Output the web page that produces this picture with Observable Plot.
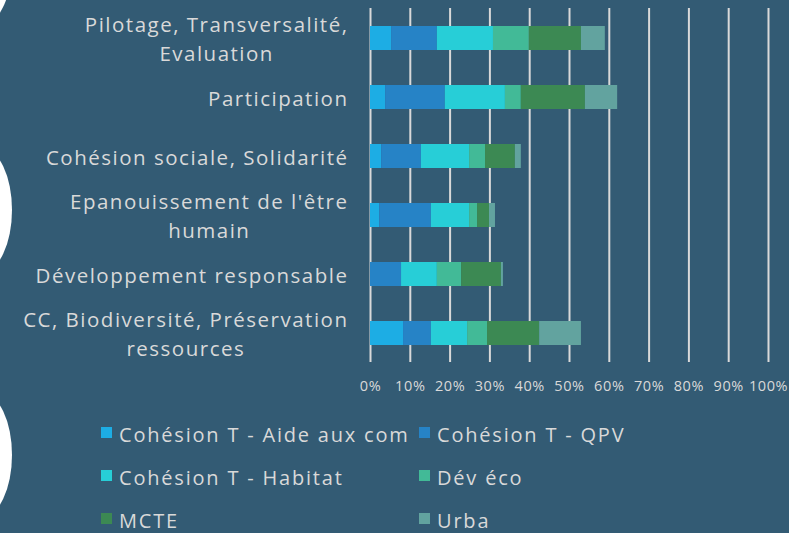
<!DOCTYPE html>
<html>
<head>
<meta charset="utf-8">
<script src="https://cdn.jsdelivr.net/npm/d3@7"></script>
<script src="https://cdn.jsdelivr.net/npm/@observablehq/plot@0.6"></script>
<style>
  html, body { margin: 0; padding: 0; }
  body { width: 789px; height: 533px; background: #335B74; position: relative; overflow: hidden; font-family: "Open Sans", sans-serif; }
  .deco { position: absolute; background: #ffffff; border-radius: 50%; width: 60px; height: 124px; left: -48px; }
  #chart { position: absolute; left: 0; top: 0; }
  #chart svg g[aria-label="y-axis tick label"] text { letter-spacing: 1.5px; }
  #chart svg g[aria-label="x-axis tick label"] text { letter-spacing: 0.6px; }
  #legend { position: absolute; left: 101px; top: 413px; display: grid; grid-template-columns: 318px 300px; grid-auto-rows: 43px; color: #d9d9d9; font-size: 20px; letter-spacing: 1.8px; }
  .item { display: flex; align-items: center; height: 43px; white-space: nowrap; }
  .sw { width: 11px; height: 11px; margin-right: 7px; margin-top: -4px; flex: none; }
</style>
</head>
<body>
<div class="deco" style="top:-99px"></div>
<div class="deco" style="top:148px"></div>
<div class="deco" style="top:393px"></div>
<div id="chart"></div>
<div id="legend"></div>
<script>
const categories = [
  "Pilotage, Transversalité,\nEvaluation",
  "Participation",
  "Cohésion sociale, Solidarité",
  "Epanouissement de l'être\nhumain",
  "Développement responsable",
  "CC, Biodiversité, Préservation\nressources"
];
const series = ["Cohésion T - Aide aux com", "Cohésion T - QPV", "Cohésion T - Habitat", "Dév éco", "MCTE", "Urba"];
const colors = ["#1DADE4", "#2683C6", "#27CED7", "#42BA97", "#3C8953", "#62A39F"];

const aideAuxCom = [0.053, 0.038, 0.028, 0.023, 0.000, 0.083];
const qpv        = [0.115, 0.150, 0.100, 0.130, 0.078, 0.070];
const habitat    = [0.141, 0.151, 0.121, 0.096, 0.090, 0.091];
const devEco     = [0.090, 0.040, 0.040, 0.020, 0.061, 0.050];
const mcte       = [0.131, 0.161, 0.075, 0.030, 0.100, 0.131];
const urba       = [0.060, 0.081, 0.015, 0.015, 0.005, 0.105];

const xTicks = [0, 0.1, 0.2, 0.3, 0.4, 0.5, 0.6, 0.7, 0.8, 0.9, 1.0];

const seriesValues = [aideAuxCom, qpv, habitat, devEco, mcte, urba];
const data = [];
series.forEach((s, si) => {
  categories.forEach((c, ci) => {
    data.push({category: c, series: s, value: seriesValues[si][ci]});
  });
});

const plot = Plot.plot({
  width: 789,
  height: 400,
  marginLeft: 370,
  marginRight: 21,
  marginTop: 8,
  marginBottom: 38,
  style: {background: "transparent", color: "#d9d9d9", fontFamily: "'Open Sans', sans-serif"},
  x: {domain: [0, 1]},
  y: {domain: categories, paddingInner: 0.6, paddingOuter: 0.3},
  color: {domain: series, range: colors},
  marks: [
    Plot.gridX(xTicks, {stroke: "#d9d9d9", strokeOpacity: 1, strokeWidth: 2}),
    Plot.barX(data, Plot.stackX({x: "value", y: "category", fill: "series", order: series})),
    Plot.axisX({ticks: xTicks, tickFormat: d3.format(".0%"), tickSize: 0, tickPadding: 18, fontSize: 14.5, fill: "#d9d9d9", label: null}),
    Plot.axisY({tickSize: 0, tickPadding: 22, fontSize: 20.5, lineHeight: 1.4, fill: "#d9d9d9", label: null, textOverflow: null, lineWidth: 100, dy: -1})
  ]
});
document.getElementById("chart").appendChild(plot);

// center multi-line category labels within their right-aligned block
plot.querySelectorAll('g[aria-label="y-axis tick label"] text').forEach(t => {
  const spans = t.querySelectorAll("tspan");
  if (spans.length > 1) {
    let w = 0;
    spans.forEach(s => { w = Math.max(w, s.getComputedTextLength()); });
    spans.forEach(s => { s.setAttribute("text-anchor", "middle"); s.setAttribute("x", -w / 2); });
  }
});

const legend = document.getElementById("legend");
series.forEach((s, i) => {
  const item = document.createElement("div");
  item.className = "item";
  const sw = document.createElement("span");
  sw.className = "sw";
  sw.style.background = colors[i];
  item.appendChild(sw);
  item.appendChild(document.createTextNode(s));
  legend.appendChild(item);
});
</script>
</body>
</html>
